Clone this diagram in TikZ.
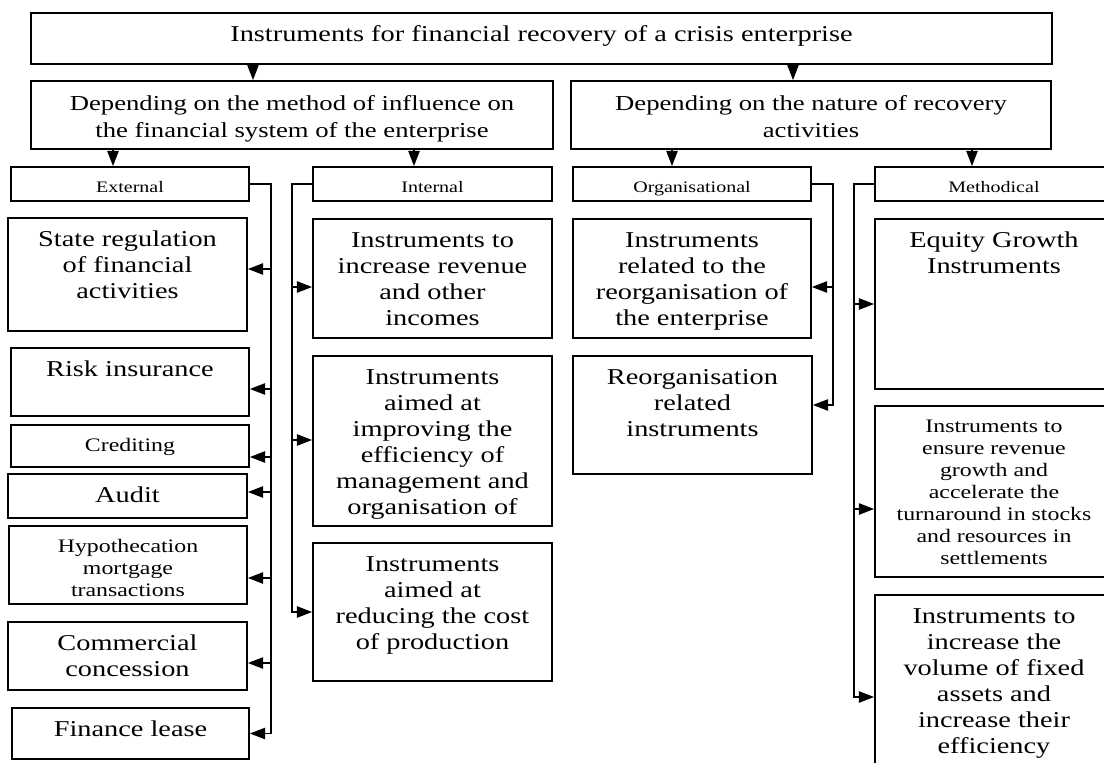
\documentclass[tikz,border=0pt]{standalone}
\usepackage{fontspec}
\setmainfont{Liberation Serif}[FakeStretch=1.25]
\usetikzlibrary{arrows.meta,fit}

\tikzset{
  box/.style={draw, line width=1.3pt, inner sep=0pt},
  txtl/.style={anchor=north, inner sep=0pt, yshift=-8pt, align=center, font=\fontsize{17}{19.5}\selectfont},
  txth/.style={anchor=north, inner sep=0pt, yshift=-7.6pt, align=center, font=\fontsize{16}{20.25}\selectfont},
  txtm/.style={anchor=north, inner sep=0pt, yshift=-8.3pt, align=center, font=\fontsize{14.3}{16.5}\selectfont},
  txts/.style={anchor=north, inner sep=0pt, yshift=-8.7pt, align=center, font=\fontsize{12}{14.4}\selectfont},
}

\begin{document}
\begin{tikzpicture}[x=0.75pt,y=-0.75pt,line width=1.3pt,>={Triangle[length=11.5pt,width=8.5pt]}]
                \useasboundingbox (0,0) rectangle (1104,763);
                % top and the two groups
                \node[box,fit={(31,13) (1052,64)}] (T) {};
                \node[txtl] (T-t) at (T.north) {\strut Instruments for financial recovery of a crisis enterprise};
                \node[box,fit={(31,81) (553,149)}] (L) {};
                \node[txth] (L-t) at (L.north) {\strut Depending on the method of influence on\\the financial system of the enterprise};
                \node[box,fit={(571,81) (1051,149)}] (R) {};
                \node[txth] (R-t) at (R.north) {\strut Depending on the nature of recovery\\activities};
                \node[box,fit={(11,167) (249,201)}] (E) {};
                \node[txts] (E-t) at (E.north) {\strut External};
                \node[box,fit={(313,167) (552,201)}] (I) {};
                \node[txts] (I-t) at (I.north) {\strut Internal};
                \node[box,fit={(573,167) (811,201)}] (O) {};
                \node[txts] (O-t) at (O.north) {\strut Organisational};
                \node[box,fit={(875,167) (1113,201)}] (M) {};
                \node[txts] (M-t) at (M.north) {\strut Methodical};
                % external
                \node[box,fit={(8,218) (247,331)}] (sr) {};
                \node[txtl] (sr-t) at (sr.north) {\strut State regulation\\of financial\\activities};
                \node[box,fit={(11,348) (249,416)}] (ri) {};
                \node[txtl] (ri-t) at (ri.north) {\strut Risk insurance};
                \node[box,fit={(11,425) (249,467)}] (cr) {};
                \node[txtm] (cr-t) at (cr.north) {\strut Crediting};
                \node[box,fit={(8,474) (247,518)}] (au) {};
                \node[txtl] (au-t) at (au.north) {\strut Audit};
                \node[box,fit={(9,526) (247,604)}] (hy) {};
                \node[txtm] (hy-t) at (hy.north) {\strut Hypothecation\\mortgage\\transactions};
                \node[box,fit={(8,622) (247,690)}] (cc) {};
                \node[txtl] (cc-t) at (cc.north) {\strut Commercial\\concession};
                \node[box,fit={(12,708) (249,759)}] (fl) {};
                \node[txtl] (fl-t) at (fl.north) {\strut Finance lease};
                % internal
                \node[box,fit={(313,219) (552,338)}] (ir) {};
                \node[txtl] (ir-t) at (ir.north) {\strut Instruments to\\increase revenue\\and other\\incomes};
                \node[box,fit={(313,356) (552,526)}] (ie) {};
                \node[txtl] (ie-t) at (ie.north) {\strut Instruments\\aimed at\\improving the\\efficiency of\\management and\\organisation of};
                \node[box,fit={(313,543) (552,681)}] (rc) {};
                \node[txtl] (rc-t) at (rc.north) {\strut Instruments\\aimed at\\reducing the cost\\of production};
                % organisational
                \node[box,fit={(573,219) (811,338)}] (rr1) {};
                \node[txtl] (rr1-t) at (rr1.north) {\strut Instruments\\related to the\\reorganisation of\\the enterprise};
                \node[box,fit={(573,356) (812,474)}] (rr2) {};
                \node[txtl] (rr2-t) at (rr2.north) {\strut Reorganisation\\related\\instruments};
                % methodical
                \node[box,fit={(875,219) (1113,389)}] (eg) {};
                \node[txtl] (eg-t) at (eg.north) {\strut Equity Growth\\Instruments};
                \node[box,fit={(875,406) (1113,577)}] (er) {};
                \node[txtm] (er-t) at (er.north) {\strut Instruments to\\ensure revenue\\growth and\\accelerate the\\turnaround in stocks\\and resources in\\settlements};
                \node[box,fit={(875,595) (1113,790)}] (iv) {};
                \node[txtl] (iv-t) at (iv.north) {\strut Instruments to\\increase the\\volume of fixed\\assets and\\increase their\\efficiency};
                % arrows down
                \draw[->] (T.south -| 253,0) -- (L.north -| 253,0);
                \draw[->] (T.south -| 793,0) -- (R.north -| 793,0);
                \draw[->] (L.south -| 113,0) -- (E.north -| 113,0);
                \draw[->] (L.south -| 414,0) -- (I.north -| 414,0);
                \draw[->] (R.south -| 672,0) -- (O.north -| 672,0);
                \draw[->] (R.south -| 972,0) -- (M.north -| 972,0);
                % side lines
                \coordinate (ebus) at (271,184);
                \coordinate (ibus) at (292,184);
                \coordinate (obus) at (833,184);
                \coordinate (mbus) at (854,184);
                \draw[->] (E.east) -- (ebus) |- (fl.east);
                \draw[->] (ebus |- 0,269) -- (sr.east |- 0,269);
                \draw[->] (ebus |- 0,389) -- (ri.east |- 0,389);
                \draw[->] (ebus |- 0,457) -- (cr.east |- 0,457);
                \draw[->] (ebus |- 0,492) -- (au.east |- 0,492);
                \draw[->] (ebus |- 0,578) -- (hy.east |- 0,578);
                \draw[->] (ebus |- 0,663) -- (cc.east |- 0,663);
                \draw[->] (I.west) -- (ibus) |- (rc.west);
                \draw[->] (ibus |- 0,287) -- (ir.west |- 0,287);
                \draw[->] (ibus |- 0,440) -- (ie.west |- 0,440);
                \draw[->] (O.east) -- (obus) |- (rr2.east |- 0,405);
                \draw[->] (obus |- 0,287) -- (rr1.east |- 0,287);
                \draw[->] (M.west) -- (mbus) |- (iv.west |- 0,697);
                \draw[->] (mbus |- 0,304) -- (eg.west |- 0,304);
                \draw[->] (mbus |- 0,509) -- (er.west |- 0,509);
            \end{tikzpicture}
\end{document}
